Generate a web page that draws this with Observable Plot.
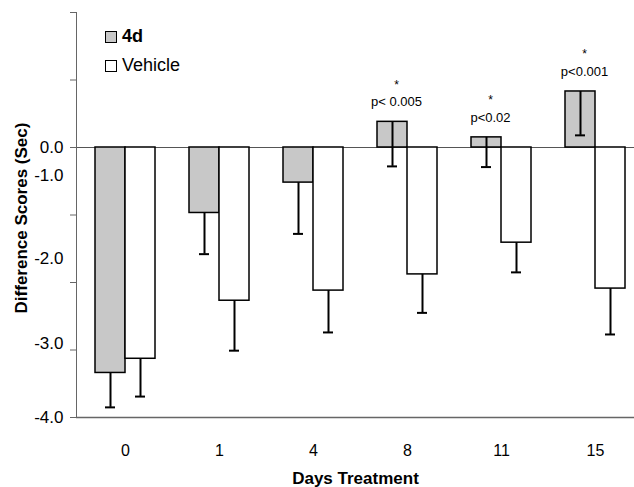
<!DOCTYPE html>
<html>
<head>
<meta charset="utf-8">
<script src="https://cdn.jsdelivr.net/npm/d3@7"></script>
<script src="https://cdn.jsdelivr.net/npm/@observablehq/plot@0.6"></script>
<style>
  html, body { margin: 0; padding: 0; background: #fff; overflow: hidden; }
  #wrap { position: relative; width: 634px; height: 487px; overflow: hidden; font-family: "Liberation Sans", Arial, Helvetica, sans-serif; }
  #legend { position: absolute; left: 105px; top: 22px; font-size: 18px; color: #000; line-height: 29px; }
  #legend .row { display: flex; align-items: center; }
  #legend .sw { width: 10px; height: 10px; border: 1.5px solid #000; margin-right: 5px; box-sizing: content-box; }
</style>
</head>
<body>
<div id="wrap"><div id="legend"></div></div>
<script>
const days = ["0", "1", "4", "8", "11", "15"];
const drug = [-3.34, -0.97, -0.52, 0.38, 0.15, 0.83];
const drugErr = [0.51, 0.61, 0.76, 0.66, 0.44, 0.65];
const vehicle = [-3.13, -2.27, -2.12, -1.88, -1.41, -2.09];
const vehicleErr = [0.56, 0.74, 0.62, 0.57, 0.44, 0.68];
const pLabels = ["", "", "", "p< 0.005", "p<0.02", "p<0.001"];
const seriesNames = ["4d", "Vehicle"];
const yTickValues = [-4, -3, -2, -1, 0, 1, 2];
const yTickLabels = ["0.0", "-1.0", "-2.0", "-3.0", "-4.0"];
const yTickLabelAt = [0, -0.42, -1.65, -2.90, -4];

const rows = days.map((d, i) => ({day: d, drug: drug[i], drugErr: drugErr[i], vehicle: vehicle[i], vehicleErr: vehicleErr[i], p: pLabels[i]}));
const labelRows = yTickLabels.map((t, i) => ({t, v: yTickLabelAt[i]}));
const sig = rows.filter(r => r.p !== "");

const GREY = "#c8c8c8";
const plot = Plot.plot({
  width: 634,
  height: 487,
  marginLeft: 76,
  marginRight: 0,
  marginTop: 12,
  marginBottom: 70,
  style: {fontFamily: "'Liberation Sans', Arial, Helvetica, sans-serif", fontSize: "16px", background: "white", color: "#000"},
  x: {domain: days, range: [76, 644], paddingInner: 0.366, paddingOuter: 0.183, align: 0.5, axis: null},
  y: {domain: [-4, 2], axis: null},
  marks: [
    Plot.ruleY([0], {stroke: "#555", strokeWidth: 1}),
    Plot.ruleY([-4], {stroke: "#666", strokeWidth: 1.5}),
    Plot.frame({anchor: "left", stroke: "#666", strokeWidth: 1}),
    Plot.axisY({ticks: yTickValues, tickSize: 6, tickFormat: () => "", stroke: "#666", label: null}),
    Plot.text(labelRows, {y: "v", text: "t", frameAnchor: "left", textAnchor: "end", dx: -13, fontSize: 17}),
    Plot.axisX({tickSize: 0, tickPadding: 27, fontSize: 16, label: null}),
    Plot.barY(rows, {x: "day", y: "drug", fill: GREY, stroke: "#000", strokeWidth: 1.5, insetRight: 30}),
    Plot.barY(rows, {x: "day", y: "vehicle", fill: "white", stroke: "#000", strokeWidth: 1.5, insetLeft: 30}),
    Plot.ruleX(rows, {x: "day", y1: "drug", y2: d => d.drug - d.drugErr, dx: -15, stroke: "#000", strokeWidth: 2}),
    Plot.tickY(rows, {x: "day", y: d => d.drug - d.drugErr, insetLeft: 10, insetRight: 40, stroke: "#000", strokeWidth: 2}),
    Plot.ruleX(rows, {x: "day", y1: "vehicle", y2: d => d.vehicle - d.vehicleErr, dx: 15, stroke: "#000", strokeWidth: 2}),
    Plot.tickY(rows, {x: "day", y: d => d.vehicle - d.vehicleErr, insetLeft: 40, insetRight: 10, stroke: "#000", strokeWidth: 2}),
    Plot.text(sig, {x: "day", y: "drug", text: "p", dx: -11, dy: -20, fontSize: 13}),
    Plot.text(sig, {x: "day", y: "drug", text: () => "*", dx: -11, dy: -37, fontSize: 12}),
    Plot.text(["Difference Scores (Sec)"], {frameAnchor: "left", textAnchor: "middle", dx: -55, dy: 3, rotate: -90, fontWeight: "bold", fontSize: 17}),
    Plot.text(["Days Treatment"], {frameAnchor: "bottom", dy: 66, fontWeight: "bold", fontSize: 17})
  ]
});
const wrap = document.getElementById("wrap");
wrap.insertBefore(plot, wrap.firstChild);

const legend = document.getElementById("legend");
const fills = [GREY, "white"];
seriesNames.forEach((name, i) => {
  const row = document.createElement("div");
  row.className = "row";
  const sw = document.createElement("span");
  sw.className = "sw";
  sw.style.background = fills[i];
  const t = document.createElement("span");
  t.textContent = name;
  if (i === 0) t.style.fontWeight = "bold";
  row.appendChild(sw);
  row.appendChild(t);
  legend.appendChild(row);
});
</script>
</body>
</html>
